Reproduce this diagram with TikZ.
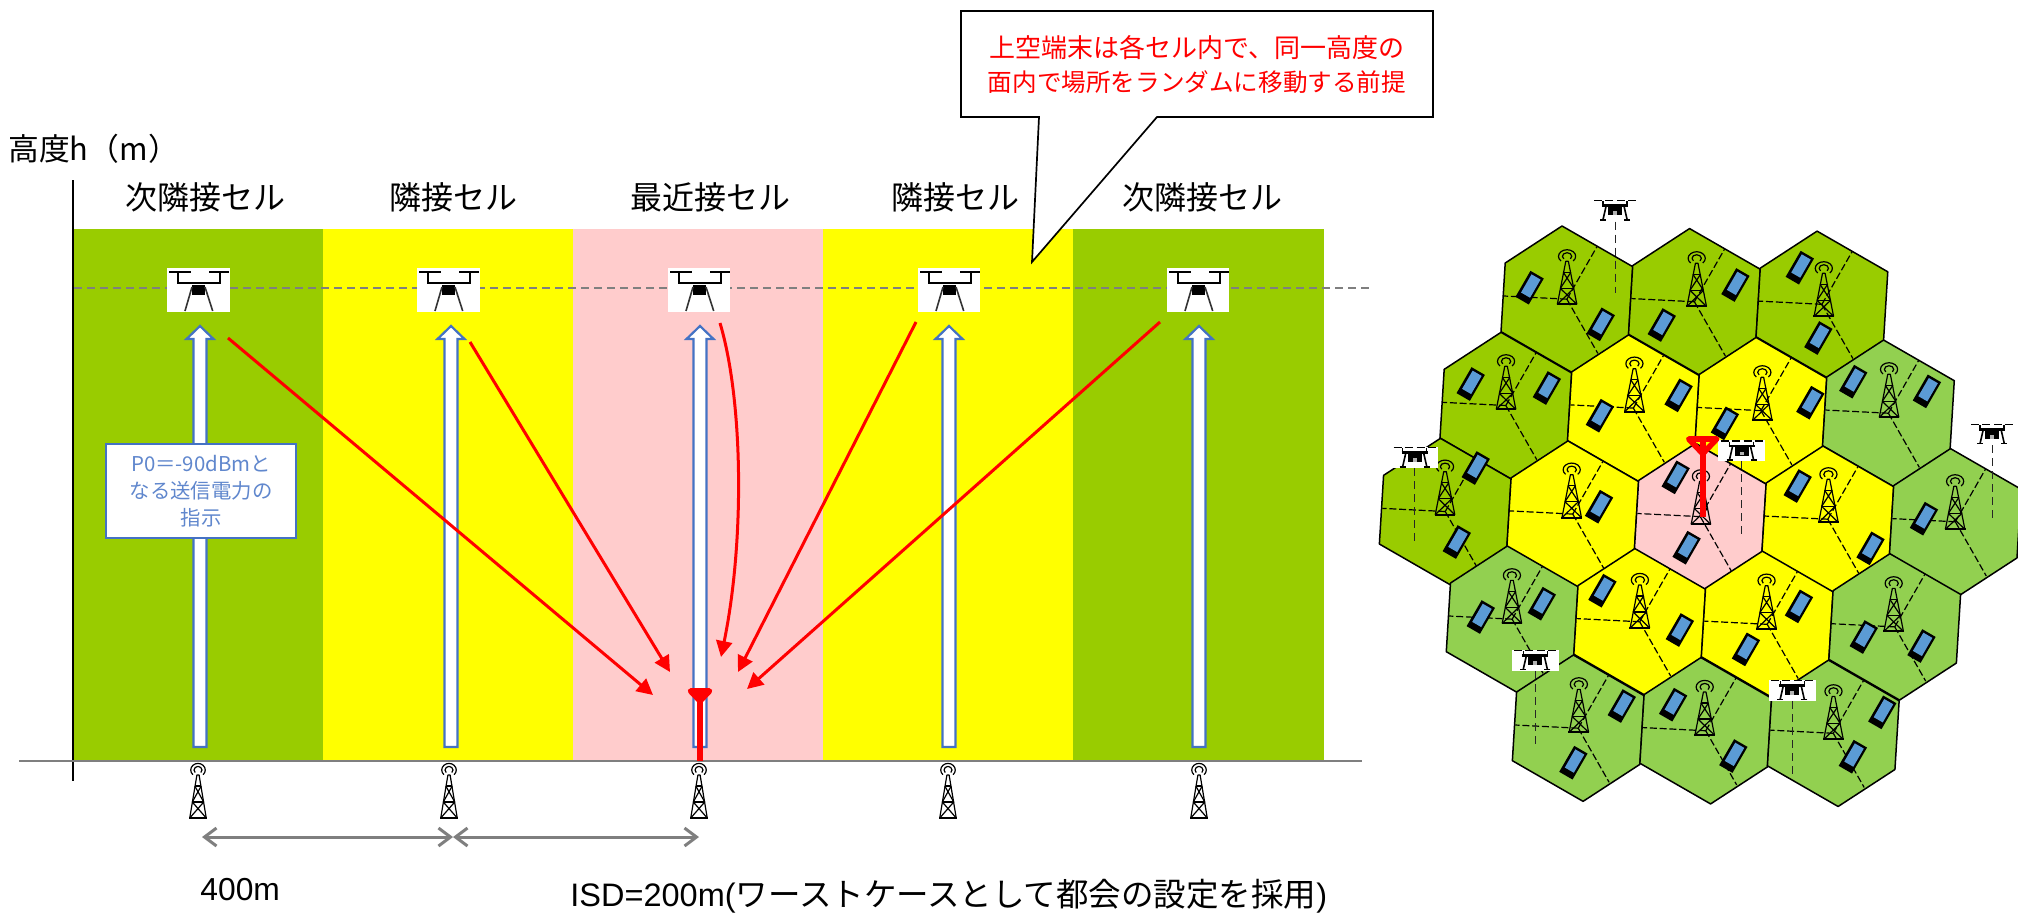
\documentclass[tikz,border=0pt]{standalone}
\usepackage{fontspec}
\setmainfont{Noto Sans CJK JP}
\newfontfamily\latfont{Liberation Sans}
\usetikzlibrary{arrows.meta,calc}
\definecolor{hexdark}{HTML}{99CC00}
\definecolor{hexlight}{HTML}{92D050}
\definecolor{hexyellow}{HTML}{FFFF00}
\definecolor{hexpink}{HTML}{FFCCCC}
\definecolor{upblue}{HTML}{4472C4}
\definecolor{phoneblue}{HTML}{5B9BD5}
\definecolor{linegray}{HTML}{7F7F7F}
\tikzset{
  band/.style={fill=#1,draw=none},
  celltitle/.style={font=\fontsize{16pt}{18pt}\selectfont,inner sep=0pt,anchor=center},
  redarrow/.style={draw=red,line width=1.5pt,-{Triangle[length=8pt,width=8pt]}},
  grayarrow/.style={draw=linegray,line width=1.5pt,{Straight Barb[length=6pt,width=9pt]}-{Straight Barb[length=6pt,width=9pt]}},
  hexline/.style={draw=black,line width=.75pt,line join=round},
  sector/.style={draw=black,line width=.6pt,dash pattern=on 3.5pt off 1.4pt},
  droneline/.style={draw=black!85,line width=.55pt,dash pattern=on 4pt off 2.5pt},
  towerpic/.pic={\begin{scope}[x=#1*.5pt,y=-.5pt,draw=black,line width=.6pt,line join=round]
    \draw (-7.5,0)--(-1,-43)--(1,-43)--(7.5,0);
    \draw[line width=.9pt] (-8,0)--(8,0);
    \draw (-2.9,-32)--(2.9,-32);
    \draw (-2.9,-32)--(5.2,-16) (2.9,-32)--(-5.2,-16);
    \draw (-5.2,-16)--(7.5,0) (5.2,-16)--(-7.5,0);
    \draw (-5.2,-16)--(5.2,-16);
    \draw (0,-48) ++(135:3.6) arc[start angle=135,end angle=405,radius=3.6];
    \draw (0,-48) ++(135:6.6) arc[start angle=135,end angle=405,radius=6.6];
  \end{scope}},
  phonepic/.pic={\begin{scope}[x=.5pt,y=-.5pt,rotate=-30]
    \fill[black] (-7.7,-15) rectangle (7.7,15);
    \fill[phoneblue] (-5,-12.5) rectangle (5.4,8.5);
  \end{scope}},
  bigdrone/.pic={\begin{scope}[x=.5pt,y=-.5pt]
    \fill[white] (0,0) rectangle (#1,44);
    \draw[black,line width=1pt] (2,3.7)--(24,3.7) (42,3.7)--(62,3.7);
    \draw[black,line width=1pt] (11,3.7)--(11,15)--(53,15)--(53,3.7);
    \fill[black] (25,17) rectangle (38,27);
    \draw[black!80,line width=.8pt] (25,19)--(18,43) (38,19)--(45.7,43);
  \end{scope}},
  smalldrone/.pic={\begin{scope}[x=.5pt,y=-.5pt]
    \ifx#1w\fill[white] (-23.5,-10.5) rectangle (23.5,10.5);\fi
    \draw[black,line width=.55pt] (-21,-9.5)--(-13,-9.5) (-10,-9.5)--(-2,-9.5) (2,-9.5)--(10,-9.5) (13,-9.5)--(21,-9.5);
    \draw[black,line width=.7pt] (-12,-9)--(-12,-4.5) (12,-9)--(12,-4.5);
    \draw[black,line width=1.4pt] (-13,-4.5)--(13,-4.5);
    \fill[black] (-7,-4) rectangle (7,5);
    \fill[white!70!black] (-2,1) rectangle (2,4.5);
    \draw[black,line width=.8pt] (-9,-4)--(-12,9) (9,-4)--(12,9);
    \draw[black,line width=.8pt] (-15,9.5)--(-9,9.5) (15,9.5)--(9,9.5);
  \end{scope}},
}
\newcommand{\upshaft}[2]{% x, name
  \coordinate (#2) at (#1,326);
  \filldraw[draw=upblue,fill=white,line width=1.1pt,line join=miter]
    ($(#2)$) -- ++(13.5,13) -- ++(-7,0) -- (#1+6.5,747) -- (#1-6.5,747) -- (#1-6.5,339) -- ++(-7,0) -- cycle;
}
\newcommand{\redmast}[4]{% x, top y, half-width, foot y
  \draw[red,line width=2.8pt,line join=round] (#1-#3,#2) -- (#1+#3,#2) -- (#1,#2+#3*1.05) -- cycle;
  \draw[red,line width=2.8pt] (#1,#2) -- (#1,#4);
}
\begin{document}
\begin{tikzpicture}[x=.5pt,y=-.5pt]
\useasboundingbox (0,0) rectangle (2018,915);
% bands
\path[band=hexdark] (74,229) rectangle (323,761);
\path[band=hexyellow] (323,229) rectangle (573,761);
\path[band=hexpink] (573,229) rectangle (823,761);
\path[band=hexyellow] (823,229) rectangle (1073,761);
\path[band=hexdark] (1073,229) rectangle (1324,761);
% axes
\coordinate (axtop) at (73,180); \coordinate (axbot) at (73,781);
\draw[black,line width=1pt] (axtop) -- (axbot);
\coordinate (grL) at (19,761); \coordinate (grR) at (1362,761);
\draw[linegray,line width=1pt] (grL) -- (grR);
\coordinate (dashL) at (74,288); \coordinate (dashR) at (1373,288);
\draw[linegray,line width=.8pt,dash pattern=on 4pt off 2.5pt] (dashL) -- (dashR);
% titles
\node[font=\fontsize{15.4pt}{18pt}\selectfont,anchor=west,inner sep=0pt] (ylab) at (8,149) {高度h（m）};
\node[celltitle] (t1) at (205,197) {次隣接セル};
\node[celltitle] (t2) at (453,197) {隣接セル};
\node[celltitle] (t3) at (710,197) {最近接セル};
\node[celltitle] (t4) at (955,197) {隣接セル};
\node[celltitle] (t5) at (1202,197) {次隣接セル};
% big drones
\pic at (167,268) {bigdrone=63};
\pic at (417,268) {bigdrone=63};
\pic at (668,268) {bigdrone=62};
\pic at (918,268) {bigdrone=62};
\pic at (1167,268) {bigdrone=62};
% up arrows
\upshaft{200}{u1}
\upshaft{451}{u2}
\upshaft{700}{u3}
\upshaft{949}{u4}
\upshaft{1199}{u5}
% towers
\pic at (198,818) {towerpic=1.1};
\pic at (449,818) {towerpic=1.1};
\pic at (699,818) {towerpic=1.1};
\pic at (948,818) {towerpic=1.1};
\pic at (1199,818) {towerpic=1.1};
% instruction box
\node[draw=upblue,fill=white,line width=1.1pt,text=upblue!85!white,align=center,minimum width=95pt,minimum height=47pt,inner sep=0pt,
  font=\fontsize{10.2pt}{13.5pt}\selectfont] (instr) at (201,491) {P0＝-90dBmと\\なる送信電力の\\指示};
% red arrows
\coordinate (r1s) at (228,338); \coordinate (r1e) at (653,695);
\coordinate (r2s) at (470,342); \coordinate (r2e) at (670,672);
\coordinate (r3s) at (720,323); \coordinate (r3e) at (721,657);
\coordinate (r4s) at (916,322); \coordinate (r4e) at (738,672);
\coordinate (r5s) at (1160,322); \coordinate (r5e) at (747,689);
\draw[redarrow] (r1s) -- (r1e);
\draw[redarrow] (r2s) -- (r2e);
\draw[redarrow] (r3s) .. controls (743,400) and (745,540) .. (r3e);
\draw[redarrow] (r4s) -- (r4e);
\draw[redarrow] (r5s) -- (r5e);
\redmast{700}{691}{9.5}{761}
% distances
\coordinate (d1) at (202,837); \coordinate (d2) at (453,837); \coordinate (d3) at (699,837);
\draw[grayarrow] (d1) -- (d2);
\draw[grayarrow] (d2) -- (d3);
\node[font=\latfont\fontsize{15.9pt}{18pt}\selectfont,anchor=west,inner sep=0pt] (l400) at (200,890) {400m};
\node[anchor=west,inner sep=0pt,font=\fontsize{16.25pt}{18pt}\selectfont] (lisd) at (570,896) {{\latfont ISD=200m(}ワーストケースとして都会の設定を採用{\latfont )}};
% callout
\filldraw[fill=white,draw=black,line width=.85pt,line join=miter] (961,11) -- (1433,11) -- (1433,117) -- (1157,117) -- (1032,262) -- (1039,117) -- (961,117) -- cycle;
\node[text=red,inner sep=0pt,font=\fontsize{13pt}{16pt}\selectfont] (noteA) at (1197,48) {上空端末は各セル内で、同一高度の};
\node[text=red,inner sep=0pt,font=\fontsize{12.3pt}{16pt}\selectfont] (noteB) at (1197,82) {面内で場所をランダムに移動する前提};
% hex panel: coordinates in crop units
\begin{scope}[shift={(1360,180)},x=.21044pt,y=-.16667pt]
  \foreach \cx/\cy/\col in {
    491.5/357.5/hexdark,794.5/365.2/hexdark,1097.5/372.9/hexdark,
    346.5/676.5/hexdark,649.5/684.2/hexyellow,952.5/691.9/hexyellow,1255.5/699.6/hexlight,
    202.5/994.5/hexdark,505.5/1002.2/hexyellow,808.5/1009.9/hexpink,1111.5/1017.6/hexyellow,1414.5/1025.3/hexlight,
    361.5/1317.5/hexlight,664.5/1325.2/hexyellow,967.5/1332.9/hexyellow,1270.5/1340.6/hexlight,
    518.5/1644.5/hexlight,821.5/1652.2/hexlight,1124.5/1659.9/hexlight}{
    \begin{scope}[shift={(\cx,\cy)}]
      \filldraw[hexline,fill=\col] (-11.5,-219.5) -- (156.5,-97.5) -- (146.5,108.5) -- (11.5,219.5) -- (-156.5,97.5) -- (-146.5,-108.5) -- cycle;
      \draw[sector] (0,0) -- (-149.5,-9.5);
      \draw[sector] (0,0) -- (71.5,-157.5);
      \draw[sector] (0,0) -- (73.5,162.5);
    \end{scope}
  }
  \foreach \tx/\ty in {492/373,800/379,1102/409,347/688,652/695,956/721,1257/712,202/1004,503/1013,810/1033,1113/1027,1414/1048,361/1330,665/1344,966/1346,1268/1354,520/1657,819/1665,1125/1678}{
    \pic at (\tx,\ty) {towerpic=1.3};
  }
  \foreach \px/\py in {403/323,572/433,892/315,717/435,1045/263,1089/474,263/612,444/624,757/646,570/707,867/730,1070/668,1172/605,1347/634,275/864,230/1086,568/980,750/892,776/1103,1040/918,1213/1105,1340/1016,287/1311,432/1271,576/1232,760/1350,1043/1279,917/1408,1197/1371,1334/1398,622/1578,507/1748,744/1574,887/1728,1241/1597,1171/1730}{
    \pic at (\px,\py) {phonepic};
  }
  % drones with plumb lines
  \coordinate (p1a) at (606,125); \coordinate (p1b) at (606,340);
  \coordinate (p2a) at (1502,795); \coordinate (p2b) at (1502,1015);
  \coordinate (p3a) at (130,864); \coordinate (p3b) at (130,1085);
  \coordinate (p4a) at (906,843); \coordinate (p4b) at (906,1065);
  \coordinate (p5a) at (417,1473); \coordinate (p5b) at (417,1695);
  \coordinate (p6a) at (1027,1563); \coordinate (p6b) at (1027,1785);
  \foreach \i in {1,...,6}{\draw[droneline] (p\i a) -- (p\i b);}
  \pic at (606,91) {smalldrone=n};
  \pic at (1502,762) {smalldrone=n};
  \pic at (130,832) {smalldrone=w};
  \pic at (906.5,811.5) {smalldrone=w};
  \pic at (416.5,1440) {smalldrone=w};
  \pic at (1027,1530) {smalldrone=w};
\end{scope}
\redmast{1702.7}{439}{14}{517}
\end{tikzpicture}
\end{document}
